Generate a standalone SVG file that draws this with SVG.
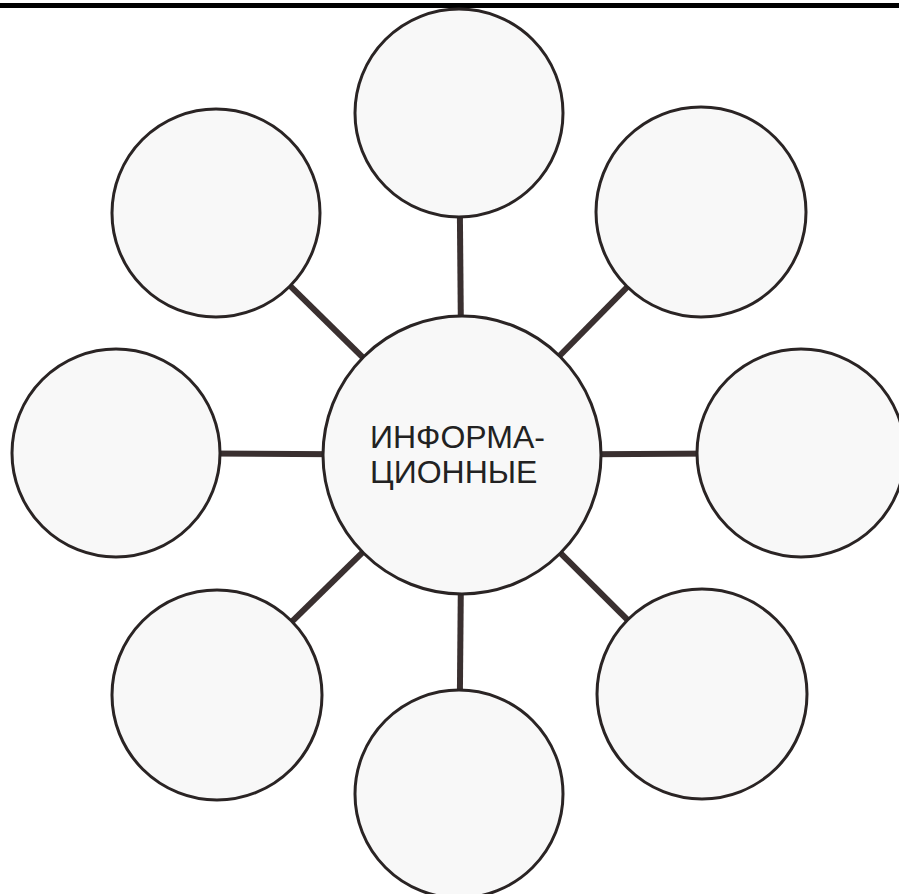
<svg xmlns="http://www.w3.org/2000/svg" width="899" height="894" viewBox="0 0 899 894">
  <style>
    .node { fill: #f8f8f8; stroke: #2a2424; stroke-width: 3; }
    .conn { stroke: #3a3030; stroke-width: 6; stroke-linecap: butt; }
    .label { font-family: "Liberation Sans", Arial, sans-serif; font-size: 32px; fill: #222; }
  </style>
  <rect x="0" y="0" width="899" height="894" fill="#ffffff"/>
  <rect x="0" y="3" width="899" height="5" fill="#000000"/>
  <g id="connectors">
    <line class="conn" x1="462" y1="455" x2="459" y2="113"/>
    <line class="conn" x1="462" y1="455" x2="701" y2="212"/>
    <line class="conn" x1="462" y1="455" x2="801" y2="453"/>
    <line class="conn" x1="462" y1="455" x2="702" y2="694"/>
    <line class="conn" x1="462" y1="455" x2="459" y2="794"/>
    <line class="conn" x1="462" y1="455" x2="217" y2="695"/>
    <line class="conn" x1="462" y1="455" x2="116" y2="453"/>
    <line class="conn" x1="462" y1="455" x2="216" y2="213"/>
  </g>
  <g id="node-top"><circle class="node" cx="459" cy="113" r="104"/></g>
  <g id="node-top-right"><circle class="node" cx="701" cy="212" r="105"/></g>
  <g id="node-right"><circle class="node" cx="801" cy="453" r="104"/></g>
  <g id="node-bottom-right"><circle class="node" cx="702" cy="694" r="105"/></g>
  <g id="node-bottom"><circle class="node" cx="459" cy="794" r="104"/></g>
  <g id="node-bottom-left"><circle class="node" cx="217" cy="695" r="105"/></g>
  <g id="node-left"><circle class="node" cx="116" cy="453" r="104"/></g>
  <g id="node-top-left"><circle class="node" cx="216" cy="213" r="104"/></g>
  <g id="node-center">
    <circle class="node" cx="462" cy="455" r="139"/>
    <text class="label" x="370" y="448">ИНФОРМА-</text>
    <text class="label" x="370" y="483">ЦИОННЫЕ</text>
  </g>
</svg>
